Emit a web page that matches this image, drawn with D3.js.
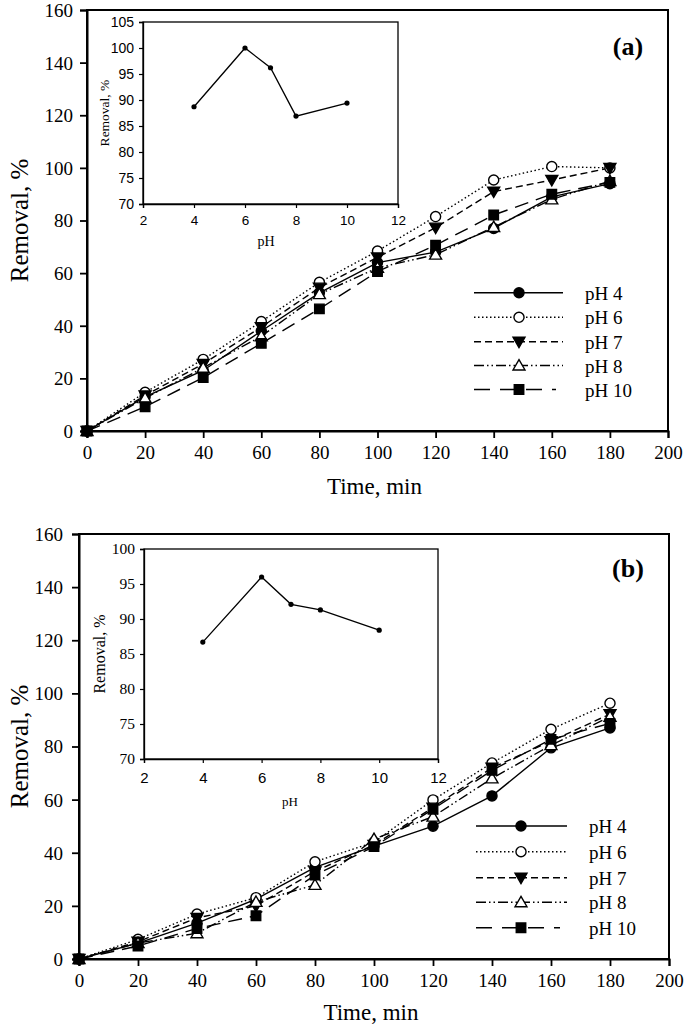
<!DOCTYPE html>
<html>
<head>
<meta charset="utf-8">
<script src="https://cdn.jsdelivr.net/npm/d3@7"></script>
<style>
  html, body { margin: 0; padding: 0; background: #fff; }
  svg { display: block; }
</style>
</head>
<body>
<svg id="chart" width="685" height="1029"></svg>
<script>
// ---------------- DATA ----------------
const times = [0, 20, 40, 60, 80, 100, 120, 140, 160, 180];
const seriesNames = ["pH 4", "pH 6", "pH 7", "pH 8", "pH 10"];

// Panel (a)
const a_pH4  = [0, 13.0, 23.0, 38.0, 52.5, 64.0, 68.0, 77.0, 89.0, 94.0];
const a_pH6  = [0, 14.7, 27.2, 41.6, 56.5, 68.4, 81.5, 95.4, 100.5, 100.0];
const a_pH7  = [0, 13.5, 25.5, 39.5, 54.5, 66.0, 77.3, 91.0, 95.4, 100.0];
const a_pH8  = [0, 12.5, 24.0, 36.0, 52.0, 62.0, 67.0, 77.5, 88.0, 95.0];
const a_pH10 = [0, 9.2, 20.3, 33.3, 46.4, 60.6, 70.6, 82.1, 90.0, 94.5];

// Panel (b)
const b_pH4  = [0, 6.0, 13.5, 22.5, 34.5, 42.5, 50.0, 61.4, 79.5, 87.0];
const b_pH6  = [0, 7.4, 16.9, 23.1, 36.6, 44.0, 59.9, 73.8, 86.5, 96.3];
const b_pH7  = [0, 6.5, 15.5, 20.0, 33.0, 43.0, 57.0, 72.0, 82.0, 92.2];
const b_pH8  = [0, 6.0, 9.7, 21.5, 27.9, 45.2, 53.6, 68.0, 80.5, 91.2];
const b_pH10 = [0, 4.9, 11.5, 16.3, 31.6, 42.3, 56.4, 71.0, 82.7, 88.7];

// Insets: final removal vs pH
const insetPH = [4, 6, 7, 8, 10];
const insetA = [88.7, 100.0, 96.2, 86.9, 89.4];
const insetB = [86.7, 96.0, 92.1, 91.3, 88.4];

// Tick labels
const mainXTicks = [0, 20, 40, 60, 80, 100, 120, 140, 160, 180, 200];
const mainYTicks = [0, 20, 40, 60, 80, 100, 120, 140, 160];
const insetXTicks = [2, 4, 6, 8, 10, 12];
const insetAYTicks = [70, 75, 80, 85, 90, 95, 100, 105];
const insetBYTicks = [70, 75, 80, 85, 90, 95, 100];

// ---------------- STYLE ----------------
const SERIF = "'Liberation Serif', 'Times New Roman', serif";
const SANS = "'Liberation Sans', Arial, sans-serif";
const styles = [
  { dash: null,                      marker: "circle",  fill: "#000" },
  { dash: "1.5,2.5",                 marker: "circle",  fill: "#fff" },
  { dash: "7,4",                     marker: "tridown", fill: "#000" },
  { dash: "10,3,1.5,3,1.5,3",        marker: "triup",   fill: "#fff" },
  { dash: "14,8",                    marker: "square",  fill: "#000" }
];

const svg = d3.select("#chart");

function markerPath(kind) {
  if (kind === "circle") return d3.symbol().type(d3.symbolCircle).size(80)();
  if (kind === "square") return d3.symbol().type(d3.symbolSquare).size(90)();
  return d3.symbol().type(d3.symbolTriangle).size(62)();
}
function drawMarker(g, kind, fill, x, y) {
  const p = g.append("path")
    .attr("d", markerPath(kind))
    .attr("fill", fill)
    .attr("stroke", "#000")
    .attr("stroke-width", 1.4);
  let tr = `translate(${x},${y})`;
  if (kind === "tridown") tr += " rotate(180)";
  if (kind === "triup" || kind === "tridown") tr += " translate(0,1)";
  p.attr("transform", tr);
}

function drawPanel(cfg) {
  const x = d3.scaleLinear().domain([0, 200]).range([cfg.left, cfg.right]);
  const y = d3.scaleLinear().domain([0, 160]).range([cfg.bottom, cfg.top]);
  const g = svg.append("g");

  // frame (top and right)
  g.append("rect")
    .attr("x", cfg.left).attr("y", cfg.top)
    .attr("width", cfg.right - cfg.left).attr("height", cfg.bottom - cfg.top)
    .attr("fill", "none").attr("stroke", "#000").attr("stroke-width", 2);

  // axes
  const xAxis = g.append("g").attr("transform", `translate(0,${cfg.bottom})`)
    .call(d3.axisBottom(x).tickValues(mainXTicks).tickSize(7).tickPadding(8).tickFormat(d3.format("d")));
  const yAxis = g.append("g").attr("transform", `translate(${cfg.left},0)`)
    .call(d3.axisLeft(y).tickValues(mainYTicks).tickSize(7).tickPadding(cfg.yPad).tickFormat(d3.format("d")));
  [xAxis, yAxis].forEach(ax => {
    ax.select(".domain").attr("stroke-width", 2);
    ax.selectAll(".tick line").attr("stroke-width", 1.8);
    ax.selectAll(".tick text").attr("font-family", SERIF).attr("font-size", 19).attr("fill", "#000");
  });
  yAxis.selectAll(".tick text").attr("dy", "0.34em");

  // axis titles
  g.append("text")
    .attr("x", (cfg.left + cfg.right) / 2 - 3).attr("y", cfg.xTitleY)
    .attr("text-anchor", "middle").attr("font-family", SERIF).attr("font-size", 23)
    .text("Time, min");
  g.append("text")
    .attr("transform", `translate(28,${(cfg.top + cfg.bottom) / 2}) rotate(-90)`)
    .attr("text-anchor", "middle").attr("font-family", SERIF).attr("font-size", 25)
    .text("Removal, %");

  // panel label
  g.append("text")
    .attr("x", 628).attr("y", cfg.labelY)
    .attr("text-anchor", "middle").attr("font-family", SERIF).attr("font-size", 26)
    .attr("font-weight", "bold").text(cfg.label);

  // series
  const line = d3.line().x((d, i) => x(times[i])).y(d => y(d));
  cfg.series.forEach((vals, k) => {
    const st = styles[k];
    const path = g.append("path").datum(vals)
      .attr("d", line).attr("fill", "none")
      .attr("stroke", "#000").attr("stroke-width", 1.4);
    if (st.dash) path.attr("stroke-dasharray", st.dash);
  });
  cfg.series.forEach((vals, k) => {
    const st = styles[k];
    vals.forEach((v, i) => drawMarker(g, st.marker, st.fill, x(times[i]), y(v)));
  });

  // legend
  cfg.legendRows.forEach((ry, k) => {
    const st = styles[k];
    const l = g.append("line")
      .attr("x1", cfg.legX1).attr("x2", k === 4 ? cfg.legX2 - 7 : cfg.legX2)
      .attr("y1", ry).attr("y2", ry)
      .attr("stroke", "#000").attr("stroke-width", 1.4);
    if (st.dash) l.attr("stroke-dasharray", k === 4 ? "16,10" : st.dash);
    drawMarker(g, st.marker, st.fill, cfg.legMX, ry);
    g.append("text").attr("x", cfg.legTX).attr("y", ry + 7)
      .attr("font-family", SERIF).attr("font-size", 19).text(seriesNames[k]);
  });

  // inset
  const ix = d3.scaleLinear().domain([2, 12]).range([cfg.inset.left, cfg.inset.right]);
  const iy = d3.scaleLinear().domain([70, cfg.inset.ymax]).range([cfg.inset.bottom, cfg.inset.top]);
  const ig = g.append("g");
  ig.append("rect")
    .attr("x", cfg.inset.left).attr("y", cfg.inset.top)
    .attr("width", cfg.inset.right - cfg.inset.left).attr("height", cfg.inset.bottom - cfg.inset.top)
    .attr("fill", "#fff").attr("stroke", "#000").attr("stroke-width", 1.3);
  const ixa = ig.append("g").attr("transform", `translate(0,${cfg.inset.bottom})`)
    .call(d3.axisBottom(ix).tickValues(insetXTicks).tickSize(4).tickPadding(cfg.inset.xPad).tickFormat(d3.format("d")));
  const iya = ig.append("g").attr("transform", `translate(${cfg.inset.left},0)`)
    .call(d3.axisLeft(iy).tickValues(cfg.inset.yTicks).tickSize(4).tickPadding(5).tickFormat(d3.format("d")));
  [ixa, iya].forEach(ax => {
    ax.select(".domain").attr("stroke-width", 1.3);
    ax.selectAll(".tick line").attr("stroke-width", 1.2);
  });
  ixa.selectAll(".tick text").attr("font-family", SANS).attr("font-size", cfg.inset.xFont).attr("fill", "#000");
  iya.selectAll(".tick text").attr("font-family", cfg.inset.yFamily).attr("font-size", cfg.inset.yFont).attr("fill", "#000");
  ig.append("text")
    .attr("x", cfg.inset.phX).attr("y", cfg.inset.phY)
    .attr("text-anchor", "middle").attr("font-family", SERIF).attr("font-size", cfg.inset.phFont).text("pH");
  ig.append("text")
    .attr("transform", `translate(${cfg.inset.labX},${(cfg.inset.top + cfg.inset.bottom) / 2}) rotate(-90)`)
    .attr("text-anchor", "middle").attr("font-family", SERIF).attr("font-size", cfg.inset.labFont)
    .text("Removal, %");
  ig.append("path").datum(cfg.inset.values)
    .attr("d", d3.line().x((d, i) => ix(insetPH[i])).y(d => iy(d)))
    .attr("fill", "none").attr("stroke", "#000").attr("stroke-width", 1.3);
  ig.selectAll("circle.ip").data(cfg.inset.values).enter().append("circle")
    .attr("cx", (d, i) => ix(insetPH[i])).attr("cy", d => iy(d)).attr("r", 2.6).attr("fill", "#000");
}

drawPanel({
  left: 87, right: 668, top: 10, bottom: 431, yPad: 7,
  xTitleY: 494, labelY: 55, label: "(a)",
  series: [a_pH4, a_pH6, a_pH7, a_pH8, a_pH10],
  legendRows: [292.7, 317.3, 341.7, 365.5, 389.5],
  legX1: 474, legX2: 563, legMX: 519, legTX: 585,
  inset: {
    left: 143, right: 398, top: 22, bottom: 204, ymax: 105, yTicks: insetAYTicks,
    xFont: 13.5, yFont: 14, yFamily: SANS, xPad: 7,
    phX: 266, phY: 246, phFont: 14, labX: 109, labFont: 13.5, values: insetA
  }
});

drawPanel({
  left: 79, right: 669, top: 534, bottom: 959, yPad: 9,
  xTitleY: 1020, labelY: 577, label: "(b)",
  series: [b_pH4, b_pH6, b_pH7, b_pH8, b_pH10],
  legendRows: [826, 851.7, 877.7, 902.3, 927.7],
  legX1: 476, legX2: 567, legMX: 521, legTX: 589,
  inset: {
    left: 144, right: 438, top: 549, bottom: 759, ymax: 100, yTicks: insetBYTicks,
    xFont: 15, yFont: 15.5, yFamily: SERIF, xPad: 9,
    phX: 290, phY: 806, phFont: 13, labX: 105, labFont: 16, values: insetB
  }
});
</script>
</body>
</html>
